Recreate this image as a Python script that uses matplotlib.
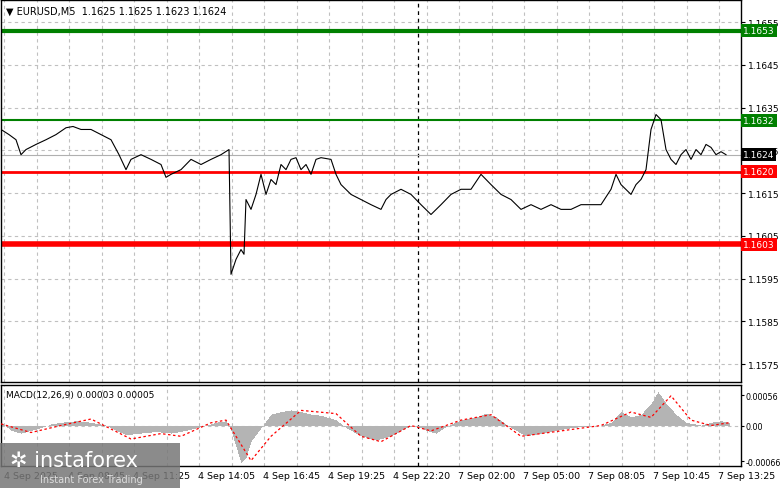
import matplotlib
matplotlib.use("Agg")
import matplotlib.pyplot as plt
import numpy as np
from matplotlib.patches import Rectangle

# --- data ---
bar_idx = [0,8,15,20,25,35,45,55,65,72,80,90,100,110,118,125,130,140,150,160,165,170,180,190,200,210,220,228,
           230,235,240,243,245,250,255,260,265,270,275,280,285,290,295,300,305,310,315,320,330,335,340,350,360,
           370,380,385,390,400,410,420,430,440,450,460,470,480,490,500,510,520,530,540,550,560,570,580,590,600,
           610,615,620,630,635,640,645,650,655,660,665,670,675,680,685,690,695,700,705,710,715,720,725]
price = [1.16299,1.16287,1.16275,1.16240,1.16252,1.16264,1.16275,1.16287,1.16303,1.16306,1.16299,1.16299,
         1.16287,1.16275,1.16240,1.16205,1.16229,1.16240,1.16229,1.16217,1.16187,1.16194,1.16205,1.16229,
         1.16217,1.16229,1.16240,1.16252,1.15960,1.15995,1.16018,1.16007,1.16135,1.16112,1.16147,1.16194,
         1.16147,1.16182,1.16170,1.16217,1.16205,1.16229,1.16233,1.16205,1.16217,1.16194,1.16229,1.16233,
         1.16229,1.16194,1.16170,1.16147,1.16135,1.16123,1.16112,1.16135,1.16147,1.16159,1.16147,1.16123,
         1.16100,1.16123,1.16147,1.16159,1.16159,1.16194,1.16170,1.16147,1.16135,1.16112,1.16123,1.16112,
         1.16123,1.16112,1.16112,1.16123,1.16123,1.16123,1.16159,1.16194,1.16170,1.16147,1.16170,1.16182,
         1.16205,1.16299,1.16334,1.16322,1.16252,1.16229,1.16217,1.16240,1.16252,1.16229,1.16252,1.16240,
         1.16264,1.16257,1.16240,1.16247,1.16240]
hist_idx = [0,10,20,30,40,50,60,75,90,105,115,125,140,155,170,185,200,215,225,230,235,240,245,250,260,270,280,
            290,300,310,320,335,345,360,375,390,405,415,425,435,445,460,475,485,495,510,525,540,555,570,585,600,
            610,620,630,640,650,657,665,675,685,700,710,720,728]
hist = [0.00005,-0.0001,-0.00015,-0.0001,-0.00005,0.00002,0.00005,0.00008,0.00005,0.0,-0.0001,-0.00018,
        -0.00015,-0.00012,-0.00015,-0.0001,-0.00003,0.00005,0.00008,-0.0001,-0.0004,-0.0007,-0.0006,-0.0003,
        -0.00005,0.0002,0.00025,0.00028,0.00025,0.0002,0.00018,0.0001,-0.00005,-0.0002,-0.00028,-0.0002,
        -0.00005,0.0,-0.0001,-0.00015,-0.00003,0.0001,0.00015,0.00022,0.00015,-0.00005,-0.0002,-0.00015,
        -0.0001,-0.00005,-0.00002,0.0,0.00005,0.00025,0.00015,0.0002,0.0004,0.00062,0.0004,0.0002,0.00005,
        0.0,0.00005,0.00008,0.00005]
sig_idx = [0,30,60,90,130,160,180,210,225,250,270,300,335,360,380,410,430,460,490,520,560,600,630,650,670,690,710,728]
sig = [0.00003,-0.00013,0.0,0.00012,-0.00025,-0.00015,-0.0002,0.00005,0.0001,-0.00065,-0.0002,0.00028,0.00022,
       -0.0002,-0.0003,0.0,-0.0001,0.0001,0.0002,-0.0002,-0.0001,0.0,0.00025,0.00015,0.00055,0.0001,0.0,0.00005]
levels = [1.1653, 1.1632, 1.1620, 1.1603]
level_colors = ['#008000', '#008000', '#ff0000', '#ff0000']
level_widths = [3, 1.5, 2, 4]
current = 1.1624
price_ticks = [1.1575,1.1585,1.1595,1.1605,1.1615,1.1625,1.1635,1.1645,1.1655]
time_labels = ["4 Sep 14:05","4 Sep 16:45","4 Sep 19:25","4 Sep 22:20","7 Sep 02:00","7 Sep 05:00",
               "7 Sep 08:05","7 Sep 10:45","7 Sep 13:25"]
time_pos = [197,262,327,392,457,522,587,652,717]
hidden_labels = ["4 Sep 2025","4 Sep 08:45","4 Sep 11:25"]
hidden_pos = [3,67,132]

W, H = 781, 489
fig = plt.figure(figsize=(W/100, H/100), dpi=100)
plt.rcParams['font.family'] = ['DejaVu Sans']
ax = fig.add_axes([1/W, (H-383)/H, 740/W, 382/H])
mx = fig.add_axes([1/W, (H-467)/H, 740/W, 81/H])
XMAX = 740
grid_x = [3 + 32.5*k for k in range(23)]
for a in (ax, mx):
    a.set_xlim(0, XMAX)
    for gx in grid_x:
        if abs(gx - 417) > 8:
            a.axvline(gx, color='#c0c0c0', ls=(0, (3, 3)), lw=0.8, zorder=0)
    a.axvline(417, color='black', ls=(0, (3, 3)), lw=0.9, zorder=1)
    a.set_xticks([])
    for s in a.spines.values():
        s.set_color('black'); s.set_linewidth(1)

ymin, ymax = 1.15708, 1.16602
ax.set_ylim(ymin, ymax)
for t in price_ticks:
    ax.axhline(t, color='#c0c0c0', ls=(0, (3, 3)), lw=0.8, zorder=0)
ax.yaxis.tick_right()
ax.set_yticks(price_ticks)
ax.set_yticklabels([f"{t:.4f}" for t in price_ticks], fontsize=6.5)
ax.tick_params(axis='y', length=3, pad=2)
ax.axhline(current, color='#b0b0b0', lw=0.8, zorder=1)
ax.plot(bar_idx, price, color='black', lw=0.8, zorder=3)
for lv, c, w in zip(levels, level_colors, level_widths):
    ax.axhline(lv, color=c, lw=w, zorder=2)
    ax.text(1.003, (lv-ymin)/(ymax-ymin), f"{lv:.4f}", transform=ax.transAxes, fontsize=6.5,
            color='white', va='center', ha='left', zorder=5,
            bbox=dict(boxstyle='square,pad=0.2', fc=c, ec='none'))
ax.text(1.003, (current-ymin)/(ymax-ymin), f"{current:.4f}", transform=ax.transAxes, fontsize=6.5,
        color='white', va='center', ha='left', zorder=5,
        bbox=dict(boxstyle='square,pad=0.2', fc='black', ec='none'))
ax.text(5, ymax - 0.00025, "▼ EURUSD,M5  1.1625 1.1625 1.1623 1.1624", fontsize=7, va='center', ha='left')

# MACD
mx.set_ylim(-0.00075, 0.00075)
mx.axhline(0, color='#c0c0c0', ls=(0, (3, 3)), lw=0.8, zorder=0)
hx = np.arange(0, 729)
hv = np.interp(hx, hist_idx, hist)
mx.bar(hx, hv, width=1.0, color='#b4b4b4', zorder=2)
mx.plot(sig_idx, sig, color='red', ls=(0, (2, 2)), lw=0.9, zorder=3)
mx.yaxis.tick_right()
mx.set_yticks([0.00056, 0.0, -0.00066])
mx.set_yticklabels(["0.00056", "0.00", "-0.00066"], fontsize=5.8)
mx.tick_params(axis='y', length=2, pad=1)
mx.text(5, 0.00058, "MACD(12,26,9) 0.00003 0.00005", fontsize=6.5, va='center', ha='left')

for lab, p in zip(hidden_labels + time_labels, hidden_pos + time_pos):
    fig.text((1 + p) / W, 1 - 477/H, lab, fontsize=6.8, ha='left', va='center')

# logo
fig.patches.append(Rectangle((0, 0), 180/W, 45/H, transform=fig.transFigure, fc='#777777', ec='none', alpha=0.85, zorder=10))
fig.text(10/W, 28/H, "✲ instaforex", fontsize=15, color='white', va='center', zorder=11)
fig.text(40/W, 9/H, "Instant Forex Trading", fontsize=7, color='#dddddd', va='center', zorder=11)

fig.savefig("out.png", dpi=100)
